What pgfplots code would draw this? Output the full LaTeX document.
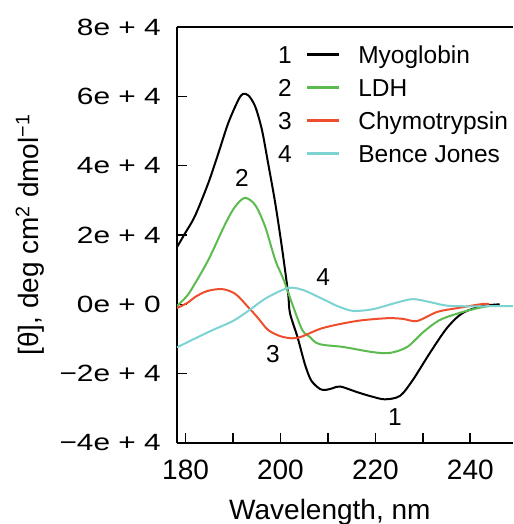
\documentclass[border=0pt]{standalone}
\usepackage{fontspec}
\setmainfont{Liberation Sans}
\newfontfamily\ytfont[FakeStretch=1.27]{Liberation Sans}
\usepackage{pgfplots}
\pgfplotsset{compat=1.18}

\definecolor{cdgreen}{RGB}{92,187,78}
\definecolor{cdred}{RGB}{238,78,45}
\definecolor{cdcyan}{RGB}{125,210,210}

\newcommand{\legfont}{\fontsize{24.5}{29}\selectfont}
\newcommand{\xtfont}{\fontsize{28}{33}\selectfont}

% values, wavelength (nm) vs. ellipticity
\pgfplotstableread{
x y
178.2 16500
179.9 20500
182.0 25500
184.8 35000
186.9 43500
189.0 52300
191.1 58900
192.1 60700
193.3 60200
194.7 57000
196.1 50300
197.4 40700
198.9 29200
200.3 16500
201.6 3300
202.0 -2500
203.6 -9500
205.2 -17500
206.5 -22000
208.3 -24400
209.5 -24700
211.0 -24200
212.6 -23700
216.1 -25300
219.0 -26500
222.0 -27400
225.2 -26400
227.9 -21800
231.5 -14000
235.1 -6800
238.4 -2500
242.6 -500
246.2 0
}\myoglobin

\pgfplotstableread{
x y
178.2 -500
179.9 1800
181.2 4200
184.8 12800
188.3 23000
190.4 28100
192.5 30700
194.7 28600
196.8 22300
198.9 12800
200.7 7000
202.4 400
204.6 -7400
206.2 -9400
207.3 -10900
209.0 -11700
213.2 -12300
219.5 -13800
223.1 -14000
226.7 -12300
230.1 -8000
233.6 -4500
238.4 -2200
242.6 -800
244.1 -500
}\ldh

\pgfplotstableread{
x y
178.2 -1100
180.5 500
182.0 2100
184.5 3800
187.7 4400
190.5 3000
193.2 -800
195.3 -4000
197.4 -7400
200.0 -9200
202.5 -9800
204.5 -9300
209.0 -6800
216.1 -4800
222.5 -4000
225.8 -4200
228.8 -4800
233.0 -2200
237.2 -1100
242.6 100
244.0 0
}\chymo

\pgfplotstableread{
x y
178.2 -12400
184.8 -8000
190.0 -4800
193.2 -1900
197.0 1800
201.6 4700
204.8 4100
209.4 1200
212.0 -500
215.3 -1900
219.5 -1400
224.0 300
227.9 1500
232.0 500
236.3 -500
249.0 -500
}\bence

\begin{document}
\begin{tikzpicture}
\begin{axis}[
  name=ax, at={(0,0)}, anchor=south west,
  scale only axis, width=336pt, height=416pt,
  xmin=178.2, xmax=249, ymin=-40000, ymax=80000,
  axis x line*=bottom, axis y line*=left,
  axis line style={-, line width=1.7pt},
  tick align=inside, major tick length=10pt,
  tick style={line width=1.6pt, black},
  xtick={180,190,...,240}, xticklabels={180,,200,,220,,240},
  ytick={-40000,-20000,...,80000},
  yticklabels={−4e + 4,−2e + 4,0e + 0,2e + 4,4e + 4,6e + 4,8e + 4},
  xticklabel style={font=\xtfont, inner sep=0pt, anchor=north, yshift=-17pt},
  yticklabel style={font=\ytfont\fontsize{23.5}{28}\selectfont, inner sep=0pt, anchor=east, xshift=-16pt},
  scaled y ticks=false,
  xlabel={Wavelength, nm},
  xlabel style={font=\xtfont, at={([yshift=-76pt]rel axis cs:0.455,0)}, anchor=base, inner sep=0pt},
  ylabel={[θ], deg cm\textsuperscript{2} dmol\textsuperscript{−1}},
  ylabel style={font=\xtfont, at={([xshift=-147pt]rel axis cs:0,0.5)}, anchor=center, rotate=0, inner sep=0pt},
  legend style={at={(rel axis cs:0.3012,0.9548)}, anchor=north west, draw=none, fill=none,
    inner sep=0pt, outer sep=0pt, font=\legfont, column sep=18pt, row sep=10.5pt,
    nodes={inner sep=0pt, text height=17.5pt, text depth=5pt}},
  legend cell align=left,
]
\addplot[black, line width=2pt, smooth, legend image code/.code={
  \node[anchor=base, text=black, inner sep=0pt, text height=17.5pt, text depth=5pt] at (0pt,-6.25pt) {1};
  \draw[black, line width=2.6pt] (22pt,2.5pt) -- (54pt,2.5pt);}] table {\myoglobin};
\addplot[cdgreen, line width=2pt, smooth, legend image code/.code={
  \node[anchor=base, text=black, inner sep=0pt, text height=17.5pt, text depth=5pt] at (0pt,-6.25pt) {2};
  \draw[cdgreen, line width=2.6pt] (22pt,2.5pt) -- (54pt,2.5pt);}] table {\ldh};
\addplot[cdred, line width=2pt, smooth, legend image code/.code={
  \node[anchor=base, text=black, inner sep=0pt, text height=17.5pt, text depth=5pt] at (0pt,-6.25pt) {3};
  \draw[cdred, line width=2.6pt] (22pt,2.5pt) -- (54pt,2.5pt);}] table {\chymo};
\addplot[cdcyan, line width=2pt, smooth, legend image code/.code={
  \node[anchor=base, text=black, inner sep=0pt, text height=17.5pt, text depth=5pt] at (0pt,-6.25pt) {4};
  \draw[cdcyan, line width=2.6pt] (22pt,2.5pt) -- (54pt,2.5pt);}] table {\bence};
\legend{Myoglobin, LDH, Chymotrypsin, Bence Jones}
\draw[line width=1.7pt] (rel axis cs:0,1) -- (rel axis cs:1,1);
\node[font=\legfont] at (axis cs:191.9,36400) {2};
\node[font=\legfont] at (axis cs:209.0,7900) {4};
\node[font=\legfont] at (axis cs:198.4,-14300) {3};
\node[font=\legfont] at (axis cs:224.1,-32500) {1};
\end{axis}
\pgfresetboundingbox
\path[use as bounding box] ([xshift=-177pt,yshift=-81pt]ax.south west) rectangle ([yshift=27pt]ax.north east);
\end{tikzpicture}
\end{document}
